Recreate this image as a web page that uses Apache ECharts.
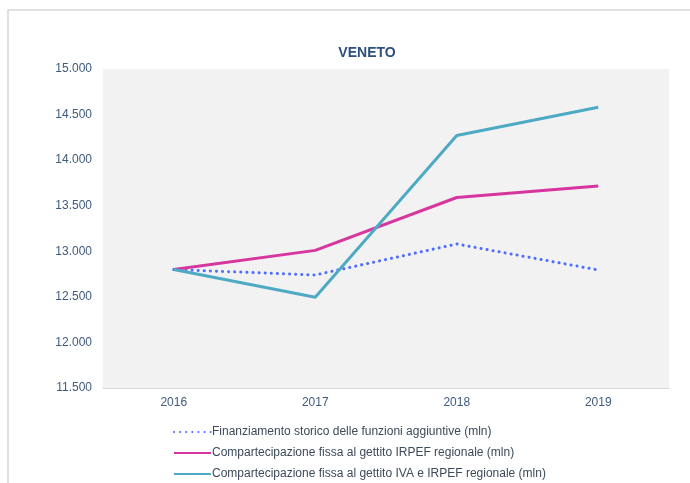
<!DOCTYPE html>
<html>
<head>
<meta charset="utf-8">
<script src="https://cdn.jsdelivr.net/npm/echarts@6/dist/echarts.min.js"></script>
<style>
  html, body { margin: 0; padding: 0; background: #fff; }
  #chart { width: 690px; height: 483px; }
</style>
</head>
<body>
<div id="chart"></div>
<script>
const years = ['2016', '2017', '2018', '2019'];
const finanziamentoStorico = [12800, 12740, 13080, 12795];
const irpefRegionale = [12800, 13010, 13590, 13715];
const ivaIrpefRegionale = [12800, 12495, 14270, 14580];
const seriesNames = [
  'Finanziamento storico delle funzioni aggiuntive (mln)',
  'Compartecipazione fissa al gettito IRPEF regionale (mln)',
  'Compartecipazione fissa al gettito IVA e IRPEF regionale (mln)'
];

const font = 'Liberation Sans, Arial, sans-serif';
const fmt = v => v.toFixed(0).replace(/\B(?=(\d{3})+(?!\d))/g, '.');

const chart = echarts.init(document.getElementById('chart'), null, { renderer: 'canvas' });

chart.setOption({
  animation: false,
  textStyle: { fontFamily: font },
  graphic: [{
    type: 'rect',
    shape: { x: 8, y: 10, width: 700, height: 500 },
    style: { fill: 'none', stroke: '#d6d6d6', lineWidth: 1.5 },
    silent: true
  }],
  title: {
    text: 'VENETO',
    left: 362,
    textAlign: 'center',
    top: 41,
    textStyle: { color: '#2c4f7c', fontSize: 14, fontWeight: 'bold', fontFamily: font }
  },
  grid: { left: 103, right: 21, top: 69, bottom: 95, backgroundColor: '#f2f2f2', show: true, borderWidth: 0 },
  legend: {
    orient: 'vertical',
    left: 173,
    top: 426,
    padding: 0,
    itemGap: 9,
    itemWidth: 37,
    itemHeight: 12,
    itemStyle: { opacity: 0 },
    textStyle: { color: '#3d4a5a', fontSize: 12, fontFamily: font, padding: [0, 0, 0, -4] },
    data: seriesNames
  },
  xAxis: {
    type: 'category',
    data: years,
    axisLine: { lineStyle: { color: '#d9d9d9', width: 1 } },
    axisTick: { show: false },
    axisLabel: { color: '#3e5a7e', fontSize: 12, margin: 9, fontFamily: font }
  },
  yAxis: {
    type: 'value',
    min: 11500,
    max: 15000,
    interval: 500,
    splitLine: { show: false },
    axisLine: { show: false },
    axisTick: { show: false },
    axisLabel: { color: '#3e5a7e', fontSize: 12, margin: 11, fontFamily: font, formatter: fmt }
  },
  series: [
    {
      name: seriesNames[0],
      type: 'line',
      data: finanziamentoStorico,
      symbol: 'none',
      lineStyle: { color: '#4f6dfb', width: 3, type: [0.1, 6], cap: 'round' },
      itemStyle: { color: '#4f6dfb' }
    },
    {
      name: seriesNames[1],
      type: 'line',
      data: irpefRegionale,
      symbol: 'none',
      lineStyle: { color: '#d6369e', width: 3 },
      itemStyle: { color: '#d6369e' }
    },
    {
      name: seriesNames[2],
      type: 'line',
      data: ivaIrpefRegionale,
      symbol: 'none',
      lineStyle: { color: '#4eaac4', width: 3 },
      itemStyle: { color: '#4eaac4' }
    }
  ]
});
</script>
</body>
</html>
